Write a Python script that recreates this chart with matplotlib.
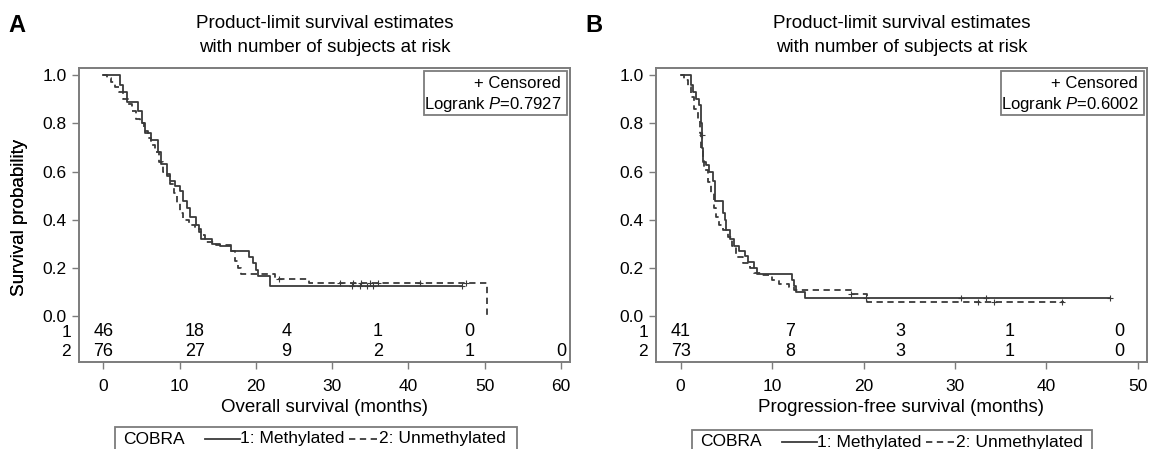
import numpy as np
import matplotlib.pyplot as plt
from matplotlib.patches import Rectangle
from matplotlib.lines import Line2D

plt.rcParams['font.family'] = ['Liberation Sans', 'DejaVu Sans']
plt.rcParams['mathtext.fontset'] = 'custom'
plt.rcParams['mathtext.rm'] = 'Liberation Sans'
plt.rcParams['mathtext.it'] = 'Liberation Sans:italic'

# ---- Panel A: overall survival ----
a_meth_t = [0, 2.2, 2.6, 3.1, 4.6, 5.0, 5.4, 6.2, 7.1, 7.6, 8.3, 8.8, 9.4, 10.0, 10.4,
            10.9, 11.4, 12.1, 12.6, 12.8, 14.3, 15.3, 16.7, 19.1, 19.6, 20.0, 20.3, 21.8, 47.0]
a_meth_s = [1.0, 0.96, 0.93, 0.89, 0.85, 0.80, 0.76, 0.73, 0.68, 0.63, 0.59, 0.56, 0.54, 0.52, 0.48,
            0.45, 0.41, 0.38, 0.35, 0.32, 0.30, 0.29, 0.27, 0.245, 0.22, 0.19, 0.165, 0.125, 0.125]
a_unm_t = [0, 0.5, 1.0, 1.5, 2.0, 2.6, 3.2, 3.8, 4.3, 4.8, 5.3, 5.8, 6.3, 6.8, 7.3, 7.8, 8.3,
           8.8, 9.2, 9.6, 10.0, 10.5, 11.2, 12.0, 12.8, 13.3, 14.8, 16.7, 17.2, 17.7, 18.1,
           22.5, 27.0, 50.3]
a_unm_s = [1.0, 0.99, 0.97, 0.95, 0.93, 0.90, 0.88, 0.85, 0.82, 0.80, 0.77, 0.74, 0.71, 0.68,
           0.64, 0.60, 0.58, 0.55, 0.51, 0.47, 0.43, 0.40, 0.38, 0.36, 0.335, 0.31, 0.295, 0.27,
           0.23, 0.20, 0.175, 0.155, 0.137, 0.0]
a_meth_cens = [32.6, 33.6, 34.6, 35.4, 47.0]
a_unm_cens = [23.0, 31.0, 32.8, 33.8, 35.0, 36.0, 41.5, 47.5]
a_risk_t = [0, 12, 24, 36, 48, 60]
a_risk_1 = [46, 18, 4, 1, 0]
a_risk_2 = [76, 27, 9, 2, 1, 0]
a_pval = '0.7927'

# ---- Panel B: progression-free survival ----
b_meth_t = [0, 1.1, 1.3, 1.7, 2.0, 2.2, 2.25, 2.3, 2.35, 2.4, 2.8, 3.1, 3.5, 3.7, 4.6, 4.8,
            5.0, 5.4, 5.8, 6.4, 7.0, 7.4, 8.0, 8.3, 12.2, 12.4, 12.6, 13.6, 46.9]
b_meth_s = [1.0, 0.96, 0.93, 0.90, 0.875, 0.85, 0.80, 0.75, 0.70, 0.64, 0.627, 0.60, 0.56,
            0.48, 0.43, 0.40, 0.356, 0.32, 0.29, 0.27, 0.25, 0.225, 0.20, 0.177, 0.15, 0.125,
            0.10, 0.075, 0.075]
b_unm_t = [0, 0.4, 0.8, 1.1, 1.5, 1.9, 2.1, 2.2, 2.4, 2.6, 3.0, 3.3, 3.6, 3.9, 4.2, 4.6, 5.2,
           5.6, 6.0, 6.8, 7.6, 8.0, 8.8, 10.0, 10.8, 11.8, 12.4, 18.6, 20.4, 41.9]
b_unm_s = [1.0, 0.98, 0.95, 0.91, 0.86, 0.82, 0.76, 0.70, 0.65, 0.605, 0.557, 0.51, 0.45,
           0.41, 0.38, 0.356, 0.33, 0.29, 0.245, 0.22, 0.20, 0.18, 0.17, 0.15, 0.135, 0.12,
           0.11, 0.094, 0.059, 0.059]
b_meth_cens = [2.3, 20.3, 30.7, 33.4, 46.9]
b_unm_cens = [18.6, 32.5, 34.3, 41.7]
b_risk_t = [0, 12, 24, 36, 48]
b_risk_1 = [41, 7, 3, 1, 0]
b_risk_2 = [73, 8, 3, 1, 0]
b_pval = '0.6002'

W, H = 1150, 449
LINE = '#3a3a3a'
FRAME = '#7c7c7c'
DASH = (0, (3.5, 2.5))


def surv_at(t, s, x):
    i = np.searchsorted(t, x, side='right') - 1
    return np.asarray(s)[i]


def panel(rect, xlim, xticks, meth, unm, cens, risk, pval, letter, xlabel, leg_x, leg_top):
    l, r, top, bot = rect
    ax = fig.add_axes([l / W, 1 - bot / H, (r - l) / W, (bot - top) / H])
    (mt, ms), (ut, us) = meth, unm
    ax.step(mt, ms, where='post', color=LINE, lw=1.3)
    ax.step(ut, us, where='post', color=LINE, lw=1.3, ls=DASH)
    ax.plot(cens[0], surv_at(mt, ms, cens[0]), '+', color=LINE, ms=5, mew=0.8)
    ax.plot(cens[1], surv_at(ut, us, cens[1]), '+', color=LINE, ms=5, mew=0.8)

    ax.set_xlim(*xlim)
    ax.set_ylim(-0.19, 1.03)
    ax.set_xticks(xticks)
    ax.set_yticks([0, 0.2, 0.4, 0.6, 0.8, 1.0])
    ax.set_yticklabels(['0.0', '0.2', '0.4', '0.6', '0.8', '1.0'])
    ax.tick_params(direction='out', length=5, width=1, color=FRAME, labelsize=12.5, pad=4)
    ax.tick_params(axis='x', pad=7)
    for sp in ax.spines.values():
        sp.set_color(FRAME)
        sp.set_linewidth(1.4)

    # number at risk
    rt, r1, r2 = risk
    y1, y2 = -0.062, -0.148
    for x, n in zip(rt, r1):
        ax.text(x, y1, str(n), ha='center', va='center', fontsize=13)
    for x, n in zip(rt, r2):
        ax.text(x, y2, str(n), ha='center', va='center', fontsize=13)
    ax.text(-0.016, y1 - 0.004, '1', ha='right', va='center', fontsize=12.5,
            transform=ax.get_yaxis_transform())
    ax.text(-0.016, y2, '2', ha='right', va='center', fontsize=12.5,
            transform=ax.get_yaxis_transform())

    # censored / logrank box
    bw, bh = 143 / (r - l), 44 / (bot - top)
    box = Rectangle((1 - bw - 0.006, 1 - bh - 0.009), bw, bh, transform=ax.transAxes,
                    fill=False, ec=FRAME, lw=1.3)
    ax.add_patch(box)
    ax.text(0.982, 1 - 15 / (bot - top), '+ Censored', transform=ax.transAxes,
            ha='right', va='center', fontsize=12)
    ax.text(0.982, 1 - 36 / (bot - top), 'Logrank $P$=' + pval, transform=ax.transAxes,
            ha='right', va='center', fontsize=12)

    cx = (l + r) / 2 / W
    fig.text(cx, 1 - 23 / H, 'Product-limit survival estimates', ha='center', va='center',
             fontsize=13.5)
    fig.text(cx, 1 - 47 / H, 'with number of subjects at risk', ha='center', va='center',
             fontsize=13.5)
    fig.text((l - 62) / W, 1 - 25 / H, letter, ha='center', va='center', fontsize=17,
             fontweight='bold')
    fig.text(20 / W, 1 - 217 / H, 'Survival probability', rotation=90, ha='center',
             va='center', fontsize=13.5)
    fig.text(cx, 1 - 408 / H, xlabel, ha='center', va='center', fontsize=13.5)

    # legend strip at the bottom
    x0, x1 = leg_x
    fig.add_artist(Rectangle((x0 / W, -0.05), (x1 - x0) / W, (H - leg_top) / H + 0.05,
                             transform=fig.transFigure, fill=False, ec=FRAME, lw=1.3))
    ty = 1 - (leg_top + 12) / H
    fig.text((x0 + 8) / W, ty, 'COBRA', ha='left', va='center', fontsize=12.5)
    fig.add_artist(Line2D([(x0 + 90) / W, (x0 + 125) / W], [ty, ty], color=LINE, lw=1.3,
                          transform=fig.transFigure))
    fig.text((x0 + 125) / W, ty, '1: Methylated', ha='left', va='center', fontsize=12.5)
    fig.add_artist(Line2D([(x0 + 234) / W, (x0 + 262) / W], [ty, ty], color=LINE, lw=1.3,
                          ls=DASH, transform=fig.transFigure))
    fig.text((x0 + 264) / W, ty, '2: Unmethylated', ha='left', va='center', fontsize=12.5)
    return ax


fig = plt.figure(figsize=(W / 100, H / 100), dpi=100)

panel((79, 570, 68, 362), (-3.2, 61.2), range(0, 61, 10),
      (a_meth_t, a_meth_s), (a_unm_t, a_unm_s), (a_meth_cens, a_unm_cens),
      (a_risk_t, a_risk_1, a_risk_2), a_pval, 'A', 'Overall survival (months)',
      (115, 517), 427)
panel((656, 1147, 68, 362), (-2.7, 51.0), range(0, 51, 10),
      (b_meth_t, b_meth_s), (b_unm_t, b_unm_s), (b_meth_cens, b_unm_cens),
      (b_risk_t, b_risk_1, b_risk_2), b_pval, 'B', 'Progression-free survival (months)',
      (692, 1092), 430)

fig.savefig('out.png', dpi=100)
